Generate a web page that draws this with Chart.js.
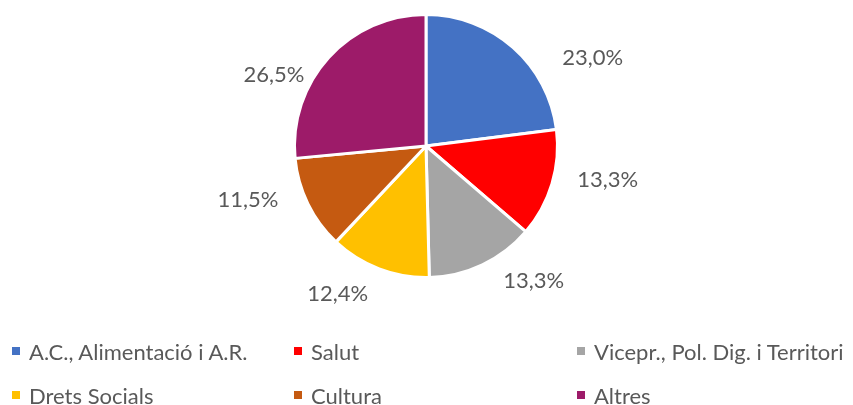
<!DOCTYPE html>
<html>
<head>
<meta charset="utf-8">
<script src="https://cdn.jsdelivr.net/npm/chart.js@4/dist/chart.umd.min.js"></script>
<style>
  html, body { margin: 0; padding: 0; background: #fff; }
  #wrap { position: relative; width: 853px; height: 405px; overflow: hidden; }
  #pie { position: absolute; left: 0; top: 0; }
  .item { position: absolute; display: flex; align-items: center; height: 24px;
          font-family: Lato, "Noto Sans", sans-serif; font-size: 22px; color: #595959; white-space: nowrap; }
  .item span.box { display: inline-block; width: 8px; height: 8px; margin-right: 9px; }
</style>
</head>
<body>
<div id="wrap">
  <canvas id="pie" width="853" height="405"></canvas>
  <div id="legend"></div>
</div>
<script>
let labels = ['A.C., Alimentació i A.R.', 'Salut', 'Vicepr., Pol. Dig. i Territori', 'Drets Socials', 'Cultura', 'Altres'];
let shares = [23.0, 13.3, 13.3, 12.4, 11.5, 26.5];
let colours = ['#4472C4', '#FF0000', '#A5A5A5', '#FFC000', '#C55A11', '#9D1B69'];

// where each percentage sits around the pie: [angle from top in degrees, distance / radius]
let labelSpots = [[62, 1.435], [100.6, 1.405], [141.3, 1.31], [210.8, 1.31], [253.2, 1.415], [295, 1.275]];

// legend grid: 3 columns, 2 rows
let legendCols = [12, 294, 577];
let legendRows = [351, 395];

let legend = document.getElementById('legend');
for (let i = 0; i < labels.length; i++) {
    let d = document.createElement('div');
    d.className = 'item';
    d.style.left = legendCols[i % 3] + 'px';
    d.style.top = (legendRows[Math.floor(i / 3)] - 12) + 'px';
    d.innerHTML = '<span class="box" style="background:' + colours[i] + '"></span>' + labels[i];
    legend.appendChild(d);
}

// percentage text outside each slice
let pctLabels = {
    id: 'pctLabels',
    afterDatasetsDraw(chart) {
        let ctx = chart.ctx;
        let meta = chart.getDatasetMeta(0);
        ctx.save();
        ctx.font = '22px Lato, "Noto Sans", sans-serif';
        ctx.fillStyle = '#595959';
        ctx.textAlign = 'center';
        ctx.textBaseline = 'middle';
        meta.data.forEach((arc, i) => {
            let a = labelSpots[i][0] * Math.PI / 180;
            let r = arc.outerRadius * labelSpots[i][1];
            let x = arc.x + r * Math.sin(a);
            let y = arc.y - r * Math.cos(a);
            ctx.fillText(shares[i].toFixed(1).replace('.', ',') + '%', x, y);
        });
        ctx.restore();
    }
};

let ctx = document.getElementById('pie').getContext('2d');
let myChart = new Chart(ctx, {
    type: 'pie',
    data: {
        labels: labels,
        datasets: [{
            data: shares,
            backgroundColor: colours,
            borderColor: '#ffffff',
            borderWidth: 3
        }]
    },
    options: {
        responsive: false,
        animation: false,
        layout: { padding: { top: 13, bottom: 126, left: 0, right: 1 } },
        plugins: {
            legend: { display: false },
            tooltip: { enabled: false }
        }
    },
    plugins: [pctLabels]
});
</script>
</body>
</html>
